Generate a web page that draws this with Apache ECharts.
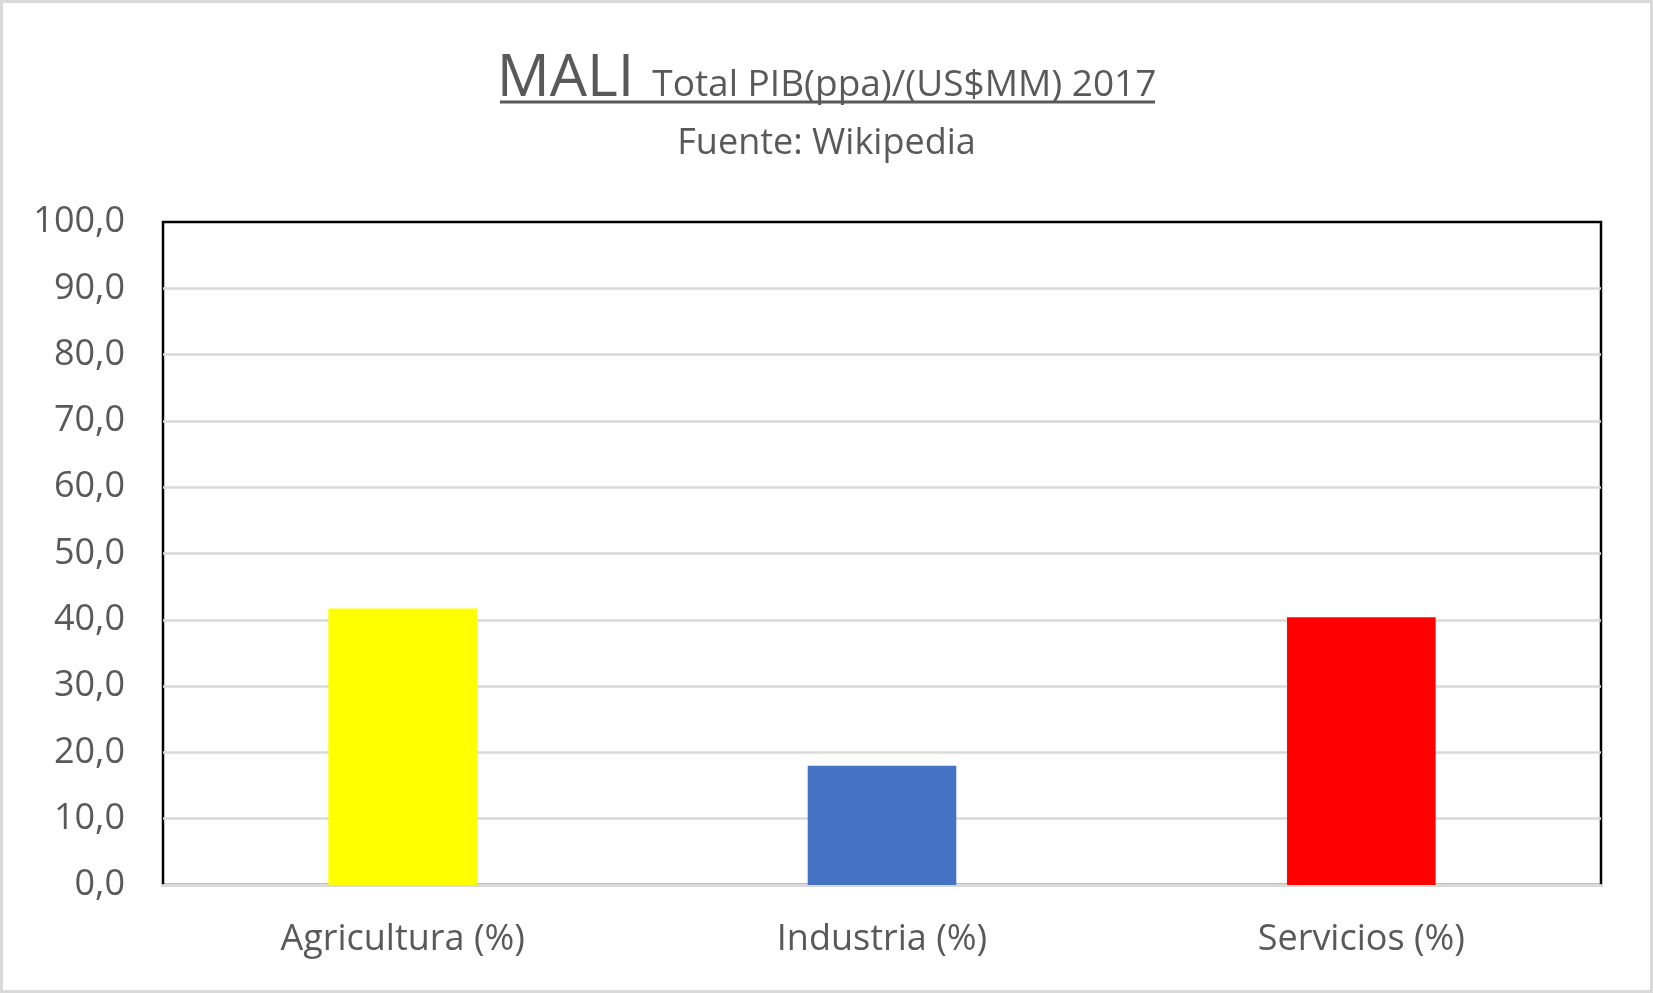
<!DOCTYPE html>
<html>
<head>
<meta charset="utf-8">
<script src="https://cdn.jsdelivr.net/npm/echarts@6/dist/echarts.min.js"></script>
<style>
html,body{margin:0;padding:0;background:#fff;}
#wrap{position:relative;width:1653px;height:993px;}
#chart{position:absolute;left:0;top:0;width:1653px;height:993px;}
#frame{position:absolute;left:0;top:0;width:1653px;height:993px;box-sizing:border-box;border:3px solid #d9d9d9;pointer-events:none;}
</style>
</head>
<body>
<div id="wrap"><div id="chart"></div><div id="frame"></div></div>
<script>
const categories = ['Agricultura (%)', 'Industria (%)', 'Servicios (%)'];
const values = [41.7, 18.0, 40.4];
const barColors = ['#FFFF00', '#4472C4', '#FF0000'];
const yTicks = { min: 0, max: 100, interval: 10 };

const FONT = 'Open Sans';
const TXT = '#595959';
const chart = echarts.init(document.getElementById('chart'));
chart.setOption({
  animation: false,
  backgroundColor: '#fff',
  title: {
    text: '{a|MALI}{b|Total PIB(ppa)/(US$MM) 2017}',
    subtext: 'Fuente: Wikipedia',
    left: 'center',
    top: 44,
    itemGap: 15,
    textStyle: {
      fontWeight: 'normal',
      rich: {
        a: { fontFamily: FONT, fontSize: 59, fontWeight: 'normal', color: TXT, lineHeight: 60, verticalAlign: 'bottom', padding: [0, 18, 0, 0] },
        b: { fontFamily: FONT, fontSize: 37, fontWeight: 'normal', color: TXT, lineHeight: 60, verticalAlign: 'bottom', padding: [0, 0, 5, 0] }
      }
    },
    subtextStyle: { fontFamily: FONT, fontSize: 36, fontWeight: 'normal', color: TXT, lineHeight: 42 }
  },
  graphic: [{
    type: 'line', silent: true,
    shape: { x1: 500, y1: 102, x2: 1155, y2: 102 },
    style: { stroke: TXT, lineWidth: 3 }
  }],
  grid: {
    left: 163, right: 52, top: 222, bottom: 108,
    show: true, borderColor: '#000', borderWidth: 2.5, backgroundColor: 'transparent'
  },
  xAxis: {
    type: 'category',
    data: categories,
    axisLine: { show: true, lineStyle: { color: '#d9d9d9', width: 3 } },
    axisTick: { show: false },
    axisLabel: { fontFamily: FONT, fontSize: 36, color: TXT, margin: 37 },
    splitLine: { show: false }
  },
  yAxis: {
    type: 'value',
    min: yTicks.min, max: yTicks.max, interval: yTicks.interval,
    axisLine: { show: false },
    axisTick: { show: false },
    axisLabel: {
      fontFamily: FONT, fontSize: 36, color: TXT, margin: 38,
      formatter: v => v.toFixed(1).replace('.', ',')
    },
    splitLine: { show: true, showMaxLine: false, showMinLine: false, lineStyle: { color: '#d9d9d9', width: 2.5 } }
  },
  series: [{
    type: 'bar',
    data: values.map((v, i) => ({ value: v, itemStyle: { color: barColors[i] } })),
    barWidth: '31%'
  }]
});
</script>
</body>
</html>
